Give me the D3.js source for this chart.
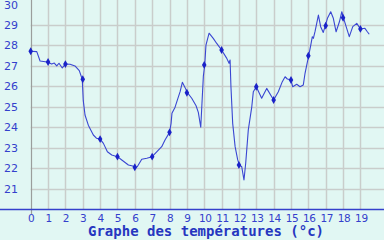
<!DOCTYPE html>
<html>
<head>
<meta charset="utf-8">
<script src="https://cdn.jsdelivr.net/npm/d3@7"></script>
<style>
    html, body { margin: 0; padding: 0; background: #e1f7f3; }
    svg { display: block; }
</style>
</head>
<body>
<svg id="leGraphe" width="384" height="240"></svg>
<script>
(function() {
    //Heures (décimales) et températures relevées
    var heures = [0.0, 0.35, 0.54, 0.94, 1.21, 1.36, 1.5, 1.63, 1.82, 2.0, 2.27, 2.55, 2.8, 2.97,
        3.03, 3.13, 3.32, 3.61, 3.8, 4.0, 4.19, 4.42, 4.67, 5.0, 5.25, 5.63, 5.88, 6.0, 6.14, 6.4,
        6.69, 7.0, 7.26, 7.55, 7.74, 8.0, 8.09, 8.14, 8.32, 8.45, 8.61, 8.74, 8.89, 9.03, 9.28,
        9.53, 9.66, 9.8, 9.87, 9.95, 10.03, 10.1, 10.28, 10.52, 10.72, 11.0, 11.3, 11.43, 11.49,
        11.54, 11.64, 11.78, 11.93, 12.03, 12.16, 12.29, 12.39, 12.54, 12.74, 12.83, 13.0, 13.31,
        13.6, 14.0, 14.27, 14.5, 14.66, 14.79, 15.0, 15.1, 15.33, 15.52, 15.71, 15.81, 16.02,
        16.14, 16.23, 16.29, 16.39, 16.58, 16.71, 16.86, 16.98, 17.1, 17.29, 17.44, 17.6, 17.79,
        17.93, 18.02, 18.21, 18.36, 18.56, 18.79, 19.0, 19.26, 19.4, 19.51];
    var temperatures = [27.72, 27.7, 27.24, 27.19, 27.09, 27.14, 27.0, 27.13, 26.9, 27.09, 27.08,
        27.0, 26.77, 26.35, 25.3, 24.6, 24.1, 23.62, 23.46, 23.42, 23.21, 22.8, 22.64, 22.56, 22.4,
        22.15, 22.1, 22.04, 22.07, 22.43, 22.48, 22.56, 22.8, 23.05, 23.38, 23.75, 24.19, 24.68,
        24.98, 25.33, 25.74, 26.2, 25.95, 25.69, 25.42, 25.05, 24.73, 24.0, 25.17, 26.5, 27.05,
        28.02, 28.6, 28.35, 28.1, 27.78, 27.37, 27.13, 27.29, 25.98, 24.19, 23.05, 22.4, 22.15,
        22.07, 21.42, 22.24, 23.87, 25.0, 25.74, 25.98, 25.42, 25.9, 25.33, 25.74, 26.23, 26.47,
        26.36, 26.31, 25.98, 26.1, 25.98, 26.07, 26.64, 27.5, 28.02, 28.43, 28.35, 28.7, 29.49,
        28.92, 28.64, 28.97, 29.33, 29.65, 29.33, 28.67, 29.16, 29.65, 29.36, 28.84, 28.43,
        28.92, 29.08, 28.81, 28.84, 28.67, 28.55];

    //Relevés horaires (marqueurs)
    var heuresMarques = d3.range(0, 20);
    var tempMarques = [27.72, 27.19, 27.09, 26.35, 23.42, 22.56, 22.04, 22.56, 23.75, 25.69,
        27.05, 27.78, 22.15, 25.98, 25.33, 26.31, 27.5, 28.97, 29.36, 28.81];

    //Graduations
    var ticksX = d3.range(0, 20);
    var ticksY = d3.range(21, 31);
    var titre = "Graphe des températures (°c)";

    var svg = d3.select("#leGraphe"),
        width = +svg.attr("width"),
        bleu = "#3440cc";

    var x = d3.scaleLinear().domain([0, 19]).range([30.7, 360.4]),
        y = d3.scaleLinear().domain([20, 30]).range([209, 4.6]);

    //fond
    svg.append("rect").attr("width", width).attr("height", 240).attr("fill", "#e1f7f3");

    //grille horizontale
    svg.append("g").selectAll("line")
        .data(ticksY.filter(function(d) { return d < 30; }))
        .join("line")
        .attr("x1", x(0)).attr("x2", width)
        .attr("y1", function(d) { return Math.round(y(d)) + 0.5; })
        .attr("y2", function(d) { return Math.round(y(d)) + 0.5; })
        .attr("stroke", "#c9cdcb").attr("stroke-width", 1.5);

    //grille verticale
    svg.append("g").selectAll("line")
        .data(ticksX.filter(function(d) { return d > 0; }))
        .join("line")
        .attr("x1", function(d) { return Math.round(x(d)) + 0.5; })
        .attr("x2", function(d) { return Math.round(x(d)) + 0.5; })
        .attr("y1", 0).attr("y2", y(20))
        .attr("stroke", "#c9cdcb").attr("stroke-width", 1.5);

    //axe vertical
    svg.append("line")
        .attr("x1", Math.round(x(0)) + 0.5).attr("x2", Math.round(x(0)) + 0.5)
        .attr("y1", 0).attr("y2", 214)
        .attr("stroke", "#9a9e9c").attr("stroke-width", 1.2);

    //axe horizontal
    svg.append("line")
        .attr("x1", 0).attr("x2", width)
        .attr("y1", y(20) + 0.5).attr("y2", y(20) + 0.5)
        .attr("stroke", bleu).attr("stroke-width", 1.3);

    //étiquettes Y
    svg.append("g").selectAll("text")
        .data(ticksY)
        .join("text")
        .attr("x", 18)
        .attr("y", function(d) { return y(d) + 4; })
        .attr("text-anchor", "end")
        .attr("font-family", "DejaVu Sans")
        .attr("font-size", 11)
        .attr("fill", bleu)
        .text(function(d) { return d; });

    //étiquettes X
    svg.append("g").selectAll("text")
        .data(ticksX)
        .join("text")
        .attr("x", function(d) { return x(d) + (d >= 10 ? 1 : 0.5); })
        .attr("y", 222)
        .attr("text-anchor", "middle")
        .attr("font-family", "DejaVu Sans")
        .attr("font-size", 10.5)
        .attr("letter-spacing", -0.4)
        .attr("fill", bleu)
        .text(function(d) { return d; });

    //titre
    svg.append("text")
        .attr("x", 206)
        .attr("y", 236)
        .attr("text-anchor", "middle")
        .attr("font-family", "DejaVu Sans Mono")
        .attr("font-weight", "bold")
        .attr("font-size", 14)
        .attr("fill", "#2636c0")
        .text(titre);

    //courbe
    var ligne = d3.line()
        .x(function(d) { return x(d[0]); })
        .y(function(d) { return y(d[1]); });

    svg.append("path")
        .datum(d3.zip(heures, temperatures))
        .attr("d", ligne)
        .attr("fill", "none")
        .attr("stroke", "#3a46d2")
        .attr("stroke-width", 1.1)
        .attr("stroke-linejoin", "round");

    //marqueurs
    var symbole = d3.symbol().type(d3.symbolDiamond).size(18);
    svg.append("g").selectAll("path")
        .data(d3.zip(heuresMarques, tempMarques))
        .join("path")
        .attr("transform", function(d) { return "translate(" + x(d[0]) + "," + y(d[1]) + ")"; })
        .attr("d", symbole)
        .attr("fill", "#1a22c8");
})();
</script>
</body>
</html>
